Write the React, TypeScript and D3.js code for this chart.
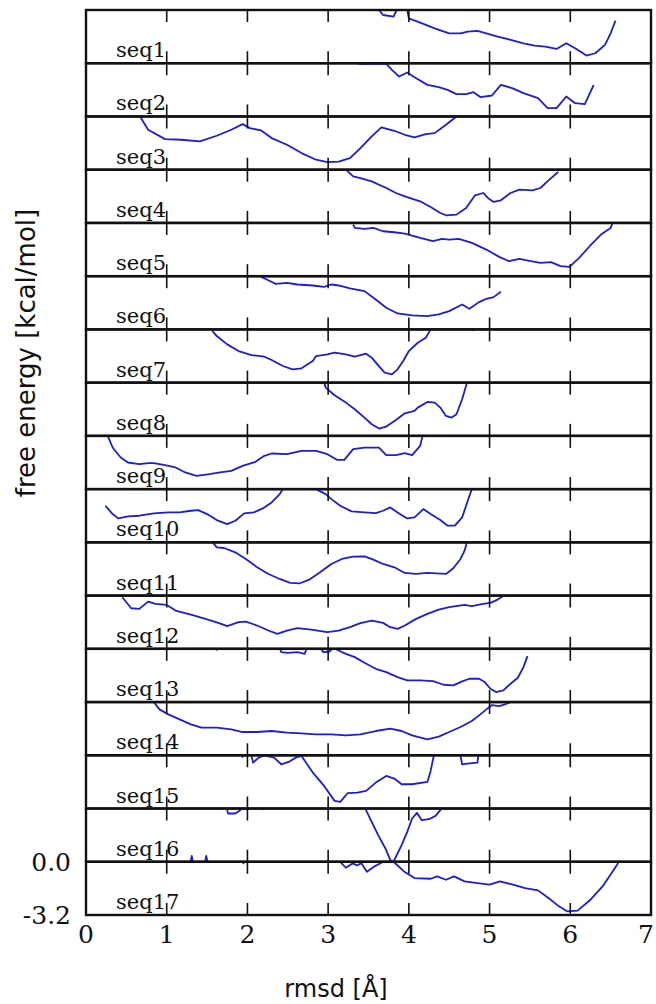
import React from 'react';
import * as d3 from 'd3';

type Pt = [number, number | null] | null;

// free-energy profiles, [rmsd (Å), free energy (kcal/mol)]; null breaks the line
const seqNames = ['seq1', 'seq2', 'seq3', 'seq4', 'seq5', 'seq6', 'seq7', 'seq8', 'seq9',
  'seq10', 'seq11', 'seq12', 'seq13', 'seq14', 'seq15', 'seq16', 'seq17'];

const seq1: Pt[] = [[3.60, 0.3], [3.63, 0], [3.68, -0.30], [3.81, -0.40], [3.85, 0], [3.88, 0.2], [3.96, 0.2],
  [3.98, 0], [4.00, -0.5], [4.14, -0.76], [4.32, -1.1], [4.50, -1.4], [4.64, -1.4], [4.73, -1.3], [4.85, -1.26],
  [4.96, -1.4], [5.10, -1.6], [5.24, -1.76], [5.42, -2.0], [5.56, -2.14], [5.69, -2.2], [5.83, -2.34],
  [5.95, -2.0], [6.06, -2.3], [6.20, -2.74], [6.31, -2.6], [6.43, -2.1], [6.50, -1.4], [6.56, -0.64]];
const seq2: Pt[] = [[3.30, 0.1], [3.38, -0.03], [3.72, -0.03], [3.79, -0.4], [3.88, -0.8], [3.98, -0.56],
  [4.07, -0.84], [4.23, -1.3], [4.37, -1.44], [4.48, -1.6], [4.59, -1.86], [4.71, -1.86], [4.80, -1.74],
  [4.89, -2.04], [5.03, -1.94], [5.14, -1.3], [5.28, -1.5], [5.42, -1.8], [5.60, -2.1], [5.72, -2.7],
  [5.83, -2.7], [5.95, -2.0], [6.06, -2.4], [6.18, -2.46], [6.29, -1.3]];
const seq3: Pt[] = [[0.65, 0.1], [0.67, 0], [0.77, -0.8], [0.98, -1.36], [1.18, -1.4], [1.41, -1.5], [1.62, -1.16],
  [1.80, -0.8], [1.94, -0.46], [2.03, -0.7], [2.17, -0.84], [2.30, -1.3], [2.49, -1.7], [2.67, -2.2],
  [2.85, -2.6], [2.99, -2.74], [3.13, -2.72], [3.27, -2.5], [3.40, -1.9], [3.54, -1.2], [3.66, -0.66],
  [3.82, -0.86], [3.95, -1.1], [4.07, -1.26], [4.21, -1.06], [4.32, -1.0], [4.46, -0.5], [4.59, 0], [4.62, 0.1]];
const seq4: Pt[] = [[3.20, 0.1], [3.22, 0], [3.31, -0.4], [3.40, -0.5], [3.54, -0.7], [3.72, -1.1], [3.84, -1.4],
  [3.95, -1.6], [4.14, -1.9], [4.27, -2.24], [4.39, -2.6], [4.46, -2.74], [4.59, -2.7], [4.71, -2.3],
  [4.82, -1.54], [4.92, -1.4], [4.98, -1.7], [5.05, -1.94], [5.14, -1.84], [5.26, -1.4], [5.37, -1.2],
  [5.53, -1.24], [5.63, -1.1], [5.74, -0.6], [5.85, -0.14]];
const seq5: Pt[] = [[3.31, -0.1], [3.33, -0.3], [3.45, -0.36], [3.56, -0.3], [3.68, -0.5], [3.82, -0.56],
  [3.95, -0.64], [4.14, -0.9], [4.30, -1.1], [4.41, -0.96], [4.50, -1.0], [4.62, -0.96], [4.78, -1.2],
  [4.96, -1.6], [5.12, -2.04], [5.24, -2.3], [5.37, -2.16], [5.51, -2.3], [5.63, -2.4], [5.76, -2.36],
  [5.88, -2.6], [5.99, -2.64], [6.11, -2.1], [6.24, -1.4], [6.38, -0.7], [6.50, -0.3], [6.52, -0.04]];
const seq6: Pt[] = [[2.17, -0.04], [2.24, -0.2], [2.35, -0.46], [2.49, -0.4], [2.62, -0.5], [2.81, -0.56],
  [2.95, -0.64], [3.04, -0.5], [3.13, -0.56], [3.27, -0.74], [3.45, -0.9], [3.59, -1.4], [3.72, -1.9],
  [3.86, -2.24], [4.04, -2.36], [4.23, -2.4], [4.37, -2.3], [4.50, -2.1], [4.66, -1.7], [4.75, -1.96],
  [4.87, -1.56], [4.96, -1.36], [5.05, -1.26], [5.14, -0.94]];
const seq7: Pt[] = [[1.53, 0.1], [1.55, 0], [1.62, -0.4], [1.75, -0.9], [1.89, -1.3], [2.05, -1.54], [2.21, -1.64],
  [2.30, -1.84], [2.44, -2.2], [2.56, -2.4], [2.67, -2.34], [2.81, -1.9], [2.85, -1.6], [2.99, -1.5],
  [3.08, -1.4], [3.22, -1.5], [3.33, -1.64], [3.47, -1.46], [3.54, -1.7], [3.61, -2.1], [3.70, -2.6],
  [3.79, -2.7], [3.86, -2.4], [3.93, -1.9], [4.00, -1.3], [4.11, -0.8], [4.21, -0.5], [4.27, 0], [4.30, 0.2],
  [4.78, 0.2], [4.80, -0.06], [4.82, 0.2]];
const seq8: Pt[] = [[2.94, 0.1], [2.95, 0], [2.97, -0.3], [3.08, -0.76], [3.22, -1.2], [3.33, -1.6], [3.45, -2.1],
  [3.54, -2.5], [3.63, -2.76], [3.72, -2.64], [3.84, -2.24], [3.95, -1.84], [4.07, -1.7], [4.11, -1.5],
  [4.23, -1.16], [4.32, -1.2], [4.39, -1.5], [4.46, -2.0], [4.53, -2.1], [4.59, -1.9], [4.66, -1.0],
  [4.72, 0], [4.73, 0.1]];
const seq9: Pt[] = [[0.25, 0.2], [0.27, 0], [0.33, -0.7], [0.43, -1.3], [0.52, -1.6], [0.66, -1.7], [0.77, -1.64],
  [0.84, -1.64], [0.98, -1.76], [1.11, -1.9], [1.23, -2.2], [1.37, -2.4], [1.53, -2.3], [1.66, -2.2],
  [1.80, -2.1], [1.94, -1.8], [2.10, -1.56], [2.21, -1.2], [2.30, -1.06], [2.49, -1.1], [2.67, -0.9],
  [2.85, -0.9], [2.99, -1.1], [3.11, -1.44], [3.20, -1.44], [3.31, -0.8], [3.45, -0.7], [3.63, -0.7],
  [3.72, -1.16], [3.84, -1.16], [3.95, -1.04], [4.04, -1.16], [4.14, -0.6], [4.17, 0], [4.18, 0.1]];
const seq10: Pt[] = [[0.24, -1.0], [0.33, -1.5], [0.40, -1.76], [0.52, -1.64], [0.66, -1.6], [0.84, -1.46],
  [1.02, -1.4], [1.16, -1.4], [1.30, -1.3], [1.39, -1.26], [1.50, -1.5], [1.62, -1.86], [1.75, -2.1],
  [1.85, -1.9], [1.96, -1.46], [2.08, -1.4], [2.19, -1.16], [2.30, -0.8], [2.40, -0.3], [2.44, 0],
  [2.64, 0.6], [2.85, 0], [2.97, -0.3], [3.04, -0.6], [3.15, -1.0], [3.29, -1.34], [3.45, -1.4],
  [3.59, -1.44], [3.68, -1.3], [3.77, -1.1], [3.86, -1.4], [3.98, -1.76], [4.07, -1.7], [4.18, -1.2],
  [4.27, -1.5], [4.39, -1.86], [4.48, -2.2], [4.57, -2.2], [4.66, -1.7], [4.73, -0.7], [4.78, 0], [4.79, 0.1]];
const seq11: Pt[] = [[1.56, 0.1], [1.57, 0], [1.62, -0.3], [1.71, -0.34], [1.85, -0.6], [1.98, -1.0], [2.12, -1.5],
  [2.26, -1.9], [2.40, -2.2], [2.53, -2.44], [2.65, -2.46], [2.76, -2.26], [2.90, -1.8], [3.04, -1.3],
  [3.17, -1.0], [3.31, -0.86], [3.45, -0.84], [3.56, -1.04], [3.68, -1.3], [3.82, -1.5], [3.95, -1.84],
  [4.09, -1.9], [4.23, -1.84], [4.34, -1.86], [4.46, -1.9], [4.55, -1.56], [4.64, -1.0], [4.69, -0.5],
  [4.72, 0], [4.73, 0.1]];
const seq12: Pt[] = [[0.45, -0.1], [0.56, -0.76], [0.66, -0.8], [0.77, -0.36], [0.86, -0.5], [1.00, -0.56],
  [1.11, -0.9], [1.30, -1.14], [1.48, -1.4], [1.64, -1.64], [1.75, -1.84], [1.89, -1.6], [1.98, -1.56],
  [2.12, -1.8], [2.26, -2.1], [2.37, -2.3], [2.49, -2.1], [2.62, -1.96], [2.79, -2.04], [2.99, -2.2],
  [3.13, -2.1], [3.27, -1.9], [3.40, -1.66], [3.54, -1.5], [3.68, -1.64], [3.77, -1.9], [3.86, -2.0],
  [3.95, -1.8], [4.09, -1.4], [4.23, -1.1], [4.37, -0.84], [4.50, -0.7], [4.69, -0.56], [4.78, -0.64],
  [4.92, -0.5], [5.01, -0.44], [5.10, -0.24], [5.18, 0]];
const seq13: Pt[] = [[1.58, 0.3], [1.62, -0.06], [1.66, 0.3], [2.38, 0.3], [2.42, -0.2], [2.50, -0.24],
  [2.62, -0.2], [2.71, -0.3], [2.74, 0.1], [2.90, 0.1], [2.94, -0.2], [3.02, -0.16], [3.06, 0.05],
  [3.13, -0.1], [3.22, -0.3], [3.33, -0.5], [3.45, -0.84], [3.59, -1.2], [3.72, -1.4], [3.86, -1.7],
  [3.98, -1.9], [4.14, -1.9], [4.30, -1.94], [4.43, -2.16], [4.55, -2.2], [4.66, -1.96], [4.75, -1.8],
  [4.87, -1.8], [4.94, -2.0], [5.01, -2.4], [5.08, -2.6], [5.17, -2.5], [5.26, -2.1], [5.35, -1.74],
  [5.42, -1.1], [5.47, -0.44]];
const seq14: Pt[] = [[0.82, 0.1], [0.84, 0], [0.91, -0.44], [1.02, -0.74], [1.16, -1.04], [1.30, -1.34],
  [1.43, -1.54], [1.62, -1.54], [1.80, -1.64], [1.94, -1.8], [2.12, -1.8], [2.30, -1.74], [2.49, -1.84],
  [2.67, -1.88], [2.85, -1.94], [3.04, -1.94], [3.22, -2.0], [3.40, -1.94], [3.59, -1.74], [3.77, -1.6],
  [3.91, -1.74], [4.04, -2.0], [4.23, -2.24], [4.37, -2.08], [4.50, -1.8], [4.64, -1.5], [4.78, -1.14],
  [4.87, -0.8], [4.96, -0.44], [5.03, -0.18], [5.12, -0.24], [5.19, -0.14], [5.26, 0]];
const seq15: Pt[] = [[1.91, 0.3], [1.94, -0.1], [1.97, 0.3], null, [2.04, 0.2], [2.07, -0.44],
  [2.14, -0.14], [2.21, 0.0], [2.33, -0.14], [2.42, -0.54], [2.51, -0.4], [2.60, -0.14], [2.67, -0.04],
  [2.81, -1.04], [2.95, -1.84], [3.08, -2.74], [3.15, -2.8], [3.24, -2.28], [3.36, -2.24], [3.47, -2.14],
  [3.59, -1.64], [3.72, -1.24], [3.82, -1.4], [3.91, -1.74], [4.04, -1.74], [4.23, -1.6], [4.27, -0.94],
  [4.31, 0], [4.45, 0.6], [4.64, -0.04], [4.66, -0.54], [4.75, -0.48], [4.85, -0.44], [4.86, -0.04],
  [4.88, 0.3]];
const seq16: Pt[] = [[1.28, -3.6], [1.31, -2.85], [1.34, -3.6], null, [1.46, -3.6], [1.49, -2.85], [1.52, -3.6],
  null, [1.73, 0.3], [1.76, -0.3], [1.85, -0.3], [1.91, -0.1], [1.95, 0.1], [2.00, -0.06], [2.06, 0.1],
  [2.18, 0.1], [2.20, -0.04], [2.22, 0.1], [3.40, 0.3], [3.46, 0], [3.54, -0.8], [3.62, -1.6],
  [3.71, -2.4], [3.77, -3.1], [3.81, -3.2], [3.91, -2.2], [3.98, -1.4], [4.04, -0.6], [4.10, -0.26],
  [4.16, -0.7], [4.25, -0.64], [4.33, -0.44], [4.40, -0.04], [4.42, 0.2]];
const seq17: Pt[] = [[1.92, 0.2], [1.95, -0.1], [1.98, 0.2], [3.12, 0.2], [3.15, 0], [3.22, -0.36],
  [3.30, -0.1], [3.36, -0.22], [3.41, -0.08], [3.48, -0.6], [3.58, -0.26], [3.66, -0.06], [3.73, 0.05],
  [3.81, 0], [3.94, -0.58], [4.07, -0.98], [4.27, -1.02], [4.35, -0.88], [4.46, -1.08], [4.56, -0.88],
  [4.69, -1.18], [4.85, -1.28], [5.00, -1.38], [5.13, -1.18], [5.29, -1.38], [5.44, -1.58], [5.60, -1.72],
  [5.73, -2.18], [5.86, -2.68], [5.96, -2.98], [6.09, -2.94], [6.25, -2.28], [6.40, -1.48], [6.58, -0.18],
  [6.60, 0]];

const profiles: Pt[][] = [seq1, seq2, seq3, seq4, seq5, seq6, seq7, seq8, seq9, seq10, seq11, seq12, seq13,
  seq14, seq15, seq16, seq17];

const xTicks = [0, 1, 2, 3, 4, 5, 6, 7];
const energyDomain = [0, -3.2];
const energyTickLabels = ['0.0', '-3.2'];

export default function App() {
  const width = 656, height = 1004;
  const left = 86, right = 651, top = 10, bottom = 915;

  const x = d3.scaleLinear().domain([0, 7]).range([left, right]);
  const panelTop = d3.scaleLinear().domain([0, profiles.length]).range([top, bottom]);
  const ph = panelTop(1) - panelTop(0);
  const tickLen = 12;
  const serif = 'DejaVu Serif';

  return (
    <svg width={width} height={height} style={{ position: 'absolute', left: 0, top: 0, background: '#fff' }}>
      <defs>
        {profiles.map((_, i) => (
          <clipPath id={`clip${i}`} key={i}>
            <rect x={left} y={panelTop(i)} width={right - left} height={ph} />
          </clipPath>
        ))}
      </defs>
      {profiles.map((data, i) => {
        const t = panelTop(i);
        const y = d3.scaleLinear().domain(energyDomain).range([t, t + ph]);
        const line = d3.line<Pt>()
          .defined(d => d != null && d[1] != null)
          .x(d => x((d as [number, number])[0]))
          .y(d => y((d as [number, number])[1]));
        return (
          <g key={i}>
            <path d={line(data) || ''} fill="none" stroke="#1c1cdc" strokeWidth={1.8}
              strokeLinejoin="round" clipPath={`url(#clip${i})`} />
            <text x={116} y={t + ph - 6} fontFamily={serif} fontSize={21} fill="#111">{seqNames[i]}</text>
            {xTicks.slice(1).map(v => (
              <g key={v} stroke="#111" strokeWidth={1.6}>
                <line x1={x(v)} x2={x(v)} y1={t} y2={t + tickLen} />
                <line x1={x(v)} x2={x(v)} y1={t + ph - tickLen} y2={t + ph} />
              </g>
            ))}
            <rect x={left} y={t} width={right - left} height={ph} fill="none" stroke="#111" strokeWidth={2.4} />
          </g>
        );
      })}
      {xTicks.map(v => (
        <text key={v} x={Math.min(x(v), 646)} y={943} textAnchor="middle" fontFamily={serif} fontSize={25}
          fill="#111">{v}</text>
      ))}
      {energyDomain.map((e, k) => {
        const t = panelTop(profiles.length - 1);
        const y = d3.scaleLinear().domain(energyDomain).range([t, t + ph]);
        return (
          <text key={k} x={71} y={y(e)} dy="0.36em" textAnchor="end" fontFamily={serif} fontSize={25} fill="#111">
            {energyTickLabels[k]}
          </text>
        );
      })}
      <text x={336} y={997} textAnchor="middle" fontFamily="DejaVu Sans" fontSize={24} fill="#111">rmsd [Å]</text>
      <text transform="translate(35,353) rotate(-90)" textAnchor="middle" fontFamily="DejaVu Sans" fontSize={26}
        fill="#111">free energy [kcal/mol]</text>
    </svg>
  );
}
